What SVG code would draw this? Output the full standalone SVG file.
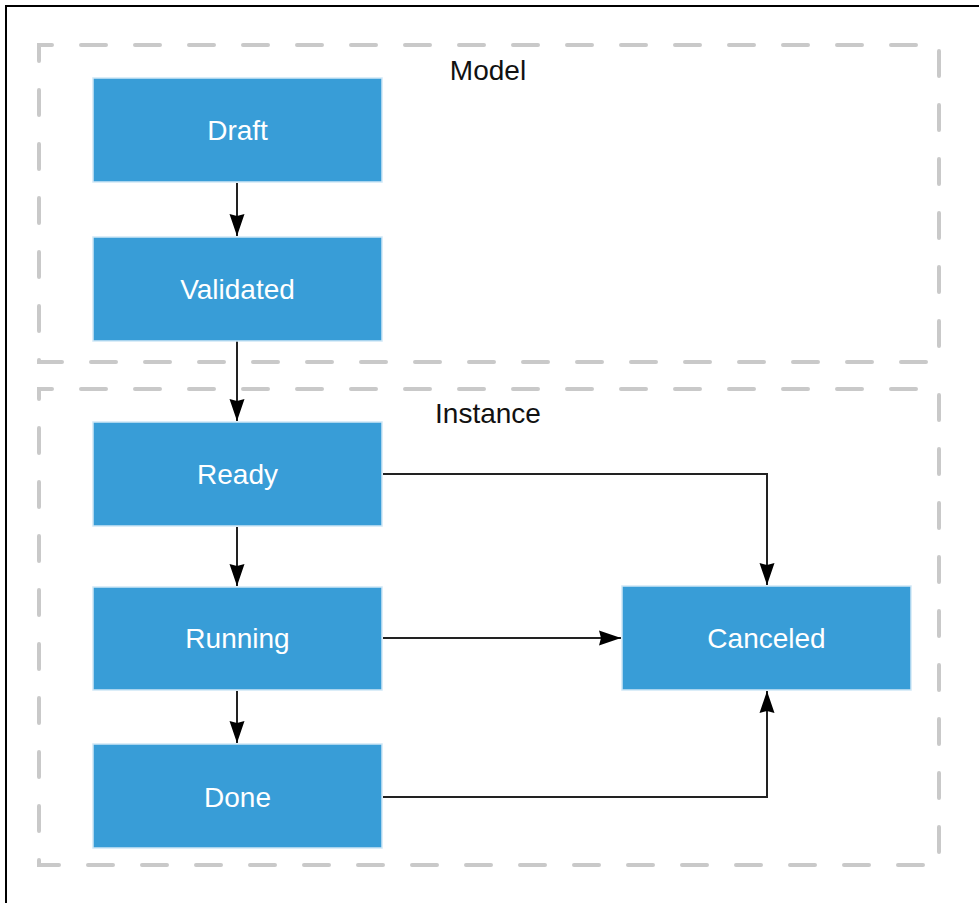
<svg xmlns="http://www.w3.org/2000/svg" width="979" height="903" viewBox="0 0 979 903">
  <style>
    .frame { stroke: #000; stroke-width: 2; fill: none; }
    .group { fill: none; stroke: #c9c9c9; stroke-width: 4; stroke-dasharray: 25 29; stroke-linecap: round; }
    .group-label { font-family: "Liberation Sans", Arial, sans-serif; font-size: 28px; fill: #111; text-anchor: middle; }
    .node rect { fill: #389dd7; stroke: #cfe7f6; stroke-width: 1.5; }
    .node text { font-family: "Liberation Sans", Arial, sans-serif; font-size: 28px; fill: #fff; text-anchor: middle; }
    .edge { fill: none; stroke: #222; stroke-width: 2; marker-end: url(#arrow); }
  </style>
  <defs>
    <marker id="arrow" markerUnits="userSpaceOnUse" markerWidth="24" markerHeight="16" viewBox="0 0 24 16" refX="22" refY="8" orient="auto">
      <path d="M0,0.5 L22,8 L0,15.5 L2,8 Z" fill="#000"/>
    </marker>
  </defs>

  <rect width="979" height="903" fill="#fff"/>

  <!-- outer frame (top and left edges) -->
  <path class="frame" d="M6,903 V6 H979"/>

  <!-- grouping boxes -->
  <g id="group-model">
    <rect class="group" x="39" y="45" width="900" height="317" stroke-dashoffset="12"/>
    <text class="group-label" x="488" y="80">Model</text>
  </g>
  <g id="group-instance">
    <rect class="group" x="39" y="389" width="900" height="476" stroke-dashoffset="12"/>
    <text class="group-label" x="488" y="423">Instance</text>
  </g>

  <!-- connectors -->
  <g id="connectors">
    <path class="edge" d="M237,183 V236"/>
    <path class="edge" d="M237,341 V421"/>
    <path class="edge" d="M237,527 V586"/>
    <path class="edge" d="M237,691 V743"/>
    <path class="edge" d="M383,474 H767 V585"/>
    <path class="edge" d="M383,638 H621"/>
    <path class="edge" d="M383,797 H767 V691"/>
  </g>

  <!-- state nodes -->
  <g id="draft" class="node">
    <rect x="93" y="78" width="289" height="104"/>
    <text x="237.5" y="140">Draft</text>
  </g>
  <g id="validated" class="node">
    <rect x="93" y="237" width="289" height="104"/>
    <text x="237.5" y="299">Validated</text>
  </g>
  <g id="ready" class="node">
    <rect x="93" y="422" width="289" height="104"/>
    <text x="237.5" y="484">Ready</text>
  </g>
  <g id="running" class="node">
    <rect x="93" y="587" width="289" height="103"/>
    <text x="237.5" y="648">Running</text>
  </g>
  <g id="done" class="node">
    <rect x="93" y="744" width="289" height="104"/>
    <text x="237.5" y="807">Done</text>
  </g>
  <g id="canceled" class="node">
    <rect x="622" y="586" width="289" height="104"/>
    <text x="766.5" y="648">Canceled</text>
  </g>
</svg>
